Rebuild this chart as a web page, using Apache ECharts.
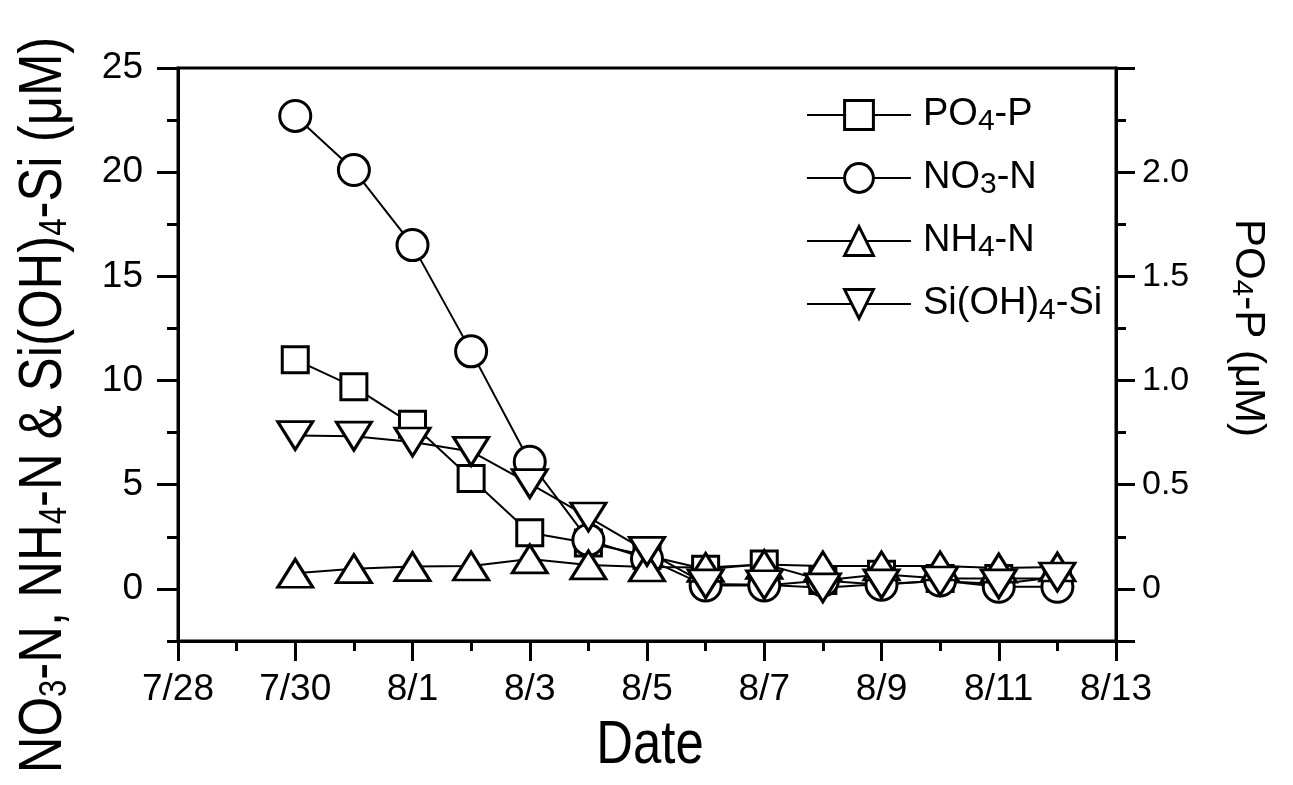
<!DOCTYPE html>
<html>
<head>
<meta charset="utf-8">
<script src="https://cdn.jsdelivr.net/npm/echarts@6.0.0/dist/echarts.min.js"></script>
<style>
  html, body { margin: 0; padding: 0; background: #fff; }
  #chart { width: 1293px; height: 785px; }
</style>
</head>
<body>
<div id="chart"></div>
<script>
// sampling dates and values
const dates = ['7/30', '7/31', '8/1', '8/2', '8/3', '8/4', '8/5', '8/6', '8/7', '8/8', '8/9', '8/10', '8/11', '8/12'];
const po4 = [1.10, 0.97, 0.79, 0.53, 0.27, 0.22, 0.16, 0.094, 0.12, 0.04, 0.07, 0.05, 0.05, 0.05]; // right axis
const no3 = [22.7, 20.1, 16.5, 11.4, 6.1, 2.35, 1.45, 0.16, 0.16, 0.4, 0.2, 0.4, 0.1, 0.1];
const nh4 = [0.75, 0.97, 1.07, 1.1, 1.44, 1.15, 1.05, 1.03, 1.17, 1.1, 1.1, 1.1, 1.0, 1.05];
const si = [7.36, 7.33, 7.05, 6.6, 5.05, 3.45, 1.8, 0.24, 0.2, 0.05, 0.24, 0.38, 0.24, 0.57];

// axes
const xTickLabels = ['7/28', '7/30', '8/1', '8/3', '8/5', '8/7', '8/9', '8/11', '8/13'];
const leftMajor = [0, 5, 10, 15, 20, 25];
const rightMajor = [-0.25, 0, 0.5, 1, 1.5, 2, 2.5];

const FONT = "'Liberation Sans', Arial, sans-serif";

// day offset from 7/28
function dayOf(s) {
  const [m, d] = s.split('/').map(Number);
  return m === 7 ? d - 28 : d + 3;
}
function pts(vals) {
  return vals.map((v, i) => [dayOf(dates[i]), v]);
}
// digits become subscripts
function subText(s) {
  return '{n|' + s.replace(/(\d)/g, '}{s|$1}{n|') + '}';
}

const chart = echarts.init(document.getElementById('chart'));

const markerStyle = { color: '#fff', borderColor: '#000', borderWidth: 3 };
const lineStyle = { color: '#000', width: 2 };
const axisLine = { show: true, onZero: false, lineStyle: { color: '#000', width: 3 } };

function mkSeries(name, vals, symbol, size, yIdx, rotate) {
  return {
    name: name,
    type: 'line',
    yAxisIndex: yIdx,
    data: pts(vals),
    symbol: symbol,
    symbolSize: size,
    symbolRotate: rotate || 0,
    showAllSymbol: true,
    itemStyle: markerStyle,
    lineStyle: lineStyle,
    emphasis: { disabled: true },
    animation: false
  };
}

// big titles are drawn a bit condensed like the original
const titleRich = {
  n: { fontFamily: FONT, fontSize: 62, lineHeight: 62, fill: '#000' },
  s: { fontFamily: FONT, fontSize: 38, lineHeight: 22, verticalAlign: 'bottom', fill: '#000' }
};

const option = {
  backgroundColor: '#fff',
  grid: {
    left: 178, right: 177, top: 68, bottom: 144,
    outerBoundsMode: 'none',
    containLabel: false,
    show: true, borderColor: '#000', borderWidth: 3
  },
  legend: {
    orient: 'vertical',
    left: 801,
    top: 91,
    itemWidth: 104,
    itemHeight: 36,
    itemGap: 22,
    itemStyle: { color: '#fff', borderColor: '#000', borderWidth: 3 },
    lineStyle: { color: '#000', width: 2 },
    formatter: name => '{g|}' + subText(name),
    textStyle: {
      color: '#000',
      rich: {
        g: { width: 7 },
        n: { fontFamily: FONT, fontSize: 38, lineHeight: 44, color: '#000' },
        s: { fontFamily: FONT, fontSize: 30, lineHeight: 20, verticalAlign: 'bottom', color: '#000' }
      }
    },
    data: ['PO4-P', 'NO3-N', 'NH4-N', 'Si(OH)4-Si']
  },
  graphic: [
    {
      type: 'text', x: 44, y: 405, rotation: Math.PI / 2, scaleX: 0.82,
      style: { text: subText('NO3-N, NH4-N & Si(OH)4-Si (μM)'), rich: titleRich, align: 'center', verticalAlign: 'middle' }
    },
    {
      type: 'text', x: 650, y: 746, scaleX: 0.82,
      style: { text: subText('Date'), rich: titleRich, align: 'center', verticalAlign: 'middle' }
    }
  ],
  xAxis: {
    type: 'value',
    min: 0, max: 16, interval: 2,
    axisLine: axisLine,
    axisTick: { length: 20, lineStyle: { color: '#000', width: 3 } },
    minorTick: { show: true, splitNumber: 2, length: 10, lineStyle: { color: '#000', width: 3 } },
    axisLabel: {
      margin: 30, color: '#000', fontFamily: FONT, fontSize: 37,
      formatter: v => xTickLabels[Math.round(v / 2)]
    },
    splitLine: { show: false }
  },
  yAxis: [
    {
      type: 'value', position: 'left',
      min: -2.5, max: 25, interval: 2.5,
      axisLine: axisLine,
      axisTick: { length: 11, lineStyle: { color: '#000', width: 3 } },
      axisLabel: {
        margin: 35, color: '#000', fontFamily: FONT, fontSize: 37,
        formatter: v => (Math.abs(v % 5) < 1e-6 ? String(v) : '')
      },
      splitLine: { show: false }
    },
    {
      type: 'value', position: 'right',
      min: -0.25, max: 2.5, interval: 0.25,
      name: subText('PO4-P (μM)'),
      nameLocation: 'middle',
      nameRotate: -90,
      nameGap: 110,
      nameMoveOverlap: false,
      nameTextStyle: {
        padding: [0, 53, 0, 0],
        rich: {
          n: { fontFamily: FONT, fontSize: 42, lineHeight: 44, color: '#000' },
          s: { fontFamily: FONT, fontSize: 30, lineHeight: 18, verticalAlign: 'bottom', color: '#000' }
        }
      },
      axisLine: axisLine,
      axisTick: { length: 10, lineStyle: { color: '#000', width: 3 } },
      axisLabel: {
        margin: 26, color: '#000', fontFamily: FONT, fontSize: 34,
        formatter: v => {
          const h = v * 2;
          if (v < -1e-6 || v > 2 + 1e-6 || Math.abs(h - Math.round(h)) > 1e-6) return '';
          return Math.abs(v) < 1e-6 ? '0' : v.toFixed(1);
        }
      },
      splitLine: { show: false }
    },
    {
      // long ticks on the left
      type: 'value', position: 'left',
      min: -2.5, max: 25, interval: 2.5,
      axisLine: { show: false, onZero: false },
      axisTick: { show: true, customValues: leftMajor, length: 21, lineStyle: { color: '#000', width: 3 } },
      axisLabel: { show: false },
      splitLine: { show: false }
    },
    {
      // long ticks on the right
      type: 'value', position: 'right',
      min: -0.25, max: 2.5, interval: 0.25,
      axisLine: { show: false, onZero: false },
      axisTick: { show: true, customValues: rightMajor, length: 19, lineStyle: { color: '#000', width: 3 } },
      axisLabel: { show: false },
      splitLine: { show: false }
    }
  ],
  series: [
    mkSeries('PO4-P', po4, 'rect', 26, 1),
    mkSeries('NO3-N', no3, 'circle', 31, 0),
    mkSeries('NH4-N', nh4, 'triangle', [35, 28], 0),
    mkSeries('Si(OH)4-Si', si, 'triangle', [35, 28], 0, 180)
  ]
};

chart.setOption(option);
</script>
</body>
</html>
